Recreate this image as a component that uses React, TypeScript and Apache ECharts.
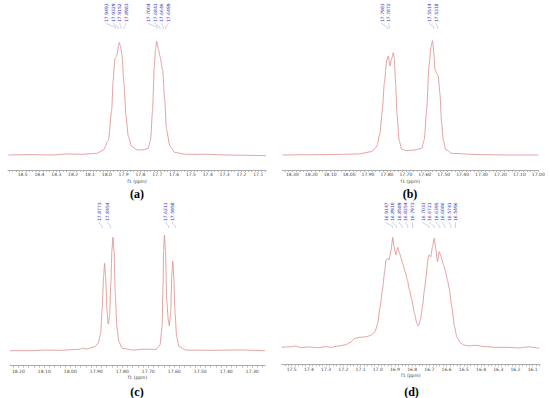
import React, { useEffect, useRef } from 'react';
import * as echarts from 'echarts';

// ---- spectra: [ppm, intensity] ----
const specA: [number, number][] = [
  [18.585, 0], [18.45, 0.3], [18.32, 0], [18.24, 0.8], [18.15, 0.6], [18.06, 1.3], [18.02, 4], [17.99, 12],
  [17.971, 36], [17.962, 60], [17.952, 77], [17.942, 79], [17.926, 90], [17.918, 86.7], [17.91, 80],
  [17.898, 57], [17.886, 31], [17.872, 15], [17.853, 7], [17.823, 4.3], [17.8, 4], [17.783, 4.2],
  [17.754, 5.3], [17.74, 12], [17.728, 36], [17.718, 70], [17.71, 85], [17.704, 91], [17.692, 84],
  [17.684, 79], [17.668, 68], [17.656, 44], [17.645, 20], [17.625, 7], [17.595, 2], [17.526, 0.5],
  [17.4, 0.6], [17.3, 0], [17.2, -0.2], [17.054, -0.5],
];
const specB: [number, number][] = [
  [18.353, 0], [18.2, 0.2], [18.05, 0.5], [17.951, 0.8], [17.881, 2.7], [17.854, 6.7], [17.837, 17.3],
  [17.824, 36], [17.814, 57.3], [17.801, 76], [17.793, 79.2], [17.784, 71.2], [17.775, 77.3], [17.766, 81.9],
  [17.761, 77.3], [17.754, 57.3], [17.747, 33.3], [17.736, 12], [17.722, 4.5], [17.696, 3.5], [17.652, 4],
  [17.617, 5.3], [17.603, 12], [17.59, 36], [17.578, 70.7], [17.567, 86.7], [17.559, 91.5], [17.552, 81.3],
  [17.546, 68], [17.537, 65.3], [17.529, 63.2], [17.52, 49.3], [17.511, 25.3], [17.502, 12], [17.49, 4.5],
  [17.458, 1.3], [17.3, 0.3], [17.15, 0], [17.0, 0],
];
const specC: [number, number][] = [
  [18.232, 0], [18.142, 0], [18.1, 0.5], [18.04, 0.3], [17.964, 1.1], [17.951, 2.1], [17.938, 1.3],
  [17.906, 3.2], [17.893, 5.9], [17.883, 13.9], [17.877, 35.2], [17.872, 59.2], [17.868, 69.9],
  [17.864, 59.2], [17.859, 32.5], [17.854, 21.3], [17.849, 27.2], [17.844, 53.9], [17.84, 80.5],
  [17.836, 90.7], [17.832, 80.5], [17.827, 45.9], [17.821, 19.2], [17.813, 7.2], [17.8, 1.9], [17.759, 0.5],
  [17.72, 1.2], [17.67, 1.1], [17.655, 4.5], [17.647, 19.2], [17.643, 53.9], [17.641, 80.5], [17.638, 92.5],
  [17.634, 80.5], [17.629, 40.5], [17.623, 24.5], [17.619, 19.7], [17.614, 29.9], [17.609, 61.9],
  [17.606, 71.7], [17.602, 59.2], [17.597, 29.9], [17.591, 11.2], [17.581, 3.2], [17.555, 0.5],
  [17.45, 0.3], [17.35, 0.6], [17.251, 0],
];
const specD: [number, number][] = [
  [17.558, 1.6], [17.5, 2.1], [17.481, 2.7], [17.442, 1.3], [17.403, 1.9], [17.345, 1.3], [17.306, 2.1],
  [17.267, 1.6], [17.229, 2.7], [17.19, 3.5], [17.161, 5.3], [17.132, 8.8], [17.103, 9.6], [17.064, 10.1],
  [17.035, 11.5], [17.016, 14.1], [17.0, 20.8], [16.986, 34.1], [16.973, 47.5], [16.961, 60.8],
  [16.952, 71.5], [16.942, 72.8], [16.934, 71.5], [16.922, 79.5], [16.913, 89.6], [16.905, 82.1],
  [16.895, 75.5], [16.884, 81.6], [16.876, 78.1], [16.864, 72.8], [16.855, 68.8], [16.841, 62.1],
  [16.828, 55.5], [16.816, 47.5], [16.802, 39.5], [16.787, 28.8], [16.773, 20.8], [16.764, 18.7],
  [16.752, 23.5], [16.74, 34.1], [16.729, 47.5], [16.719, 58.1], [16.709, 71.5], [16.702, 75.5],
  [16.692, 74.1], [16.682, 82.1], [16.672, 88.8], [16.663, 80.8], [16.653, 70.1], [16.643, 78.1],
  [16.632, 74.1], [16.618, 67.5], [16.609, 63.5], [16.595, 55.5], [16.585, 48.8], [16.57, 34.1],
  [16.554, 18.1], [16.541, 10.1], [16.521, 5.3], [16.502, 3.5], [16.473, 2.7], [16.434, 3.2],
  [16.376, 2.1], [16.318, 1.6], [16.24, 1.6], [16.182, 1.1], [16.124, 1.9], [16.062, 0.8],
];

// ---- axis tick labels ----
const ticksA = [18.5, 18.4, 18.3, 18.2, 18.1, 18.0, 17.9, 17.8, 17.7, 17.6, 17.5, 17.4, 17.3, 17.2, 17.1];
const ticksB = [18.3, 18.2, 18.1, 18.0, 17.9, 17.8, 17.7, 17.6, 17.5, 17.4, 17.3, 17.2, 17.1, 17.0];
const ticksC = [18.2, 18.1, 18.0, 17.9, 17.8, 17.7, 17.6, 17.5, 17.4, 17.3];
const ticksD = [17.5, 17.4, 17.3, 17.2, 17.1, 17.0, 16.9, 16.8, 16.7, 16.6, 16.5, 16.4, 16.3, 16.2, 16.1];

// ---- peak labels (groups) ----
const peakLabelsA = [[17.9493, 17.9329, 17.9152, 17.8983], [17.7004, 17.6841, 17.6646, 17.6499]];
const peakLabelsB = [[17.7983, 17.7872], [17.5514, 17.5318]];
const peakLabelsC = [[17.8773, 17.8454], [17.6211, 17.5958]];
const peakLabelsD = [
  [16.9147, 16.891, 16.8589, 16.8254, 16.7973],
  [16.7033, 16.6721, 16.6395, 16.6086, 16.5741, 16.5496],
];

const panelLetters = ['(a)', '(b)', '(c)', '(d)'];
const axisName = 'f1 (ppm)';

function minorTicks(min: number, max: number, step: number) {
  const out: number[] = [];
  const start = Math.ceil(min / step - 1e-9);
  for (let k = start; k * step <= max + 1e-9; k++) out.push(+(k * step).toFixed(4));
  return out;
}

export default function App() {
  const ref = useRef<HTMLDivElement>(null);
  useEffect(() => {
    document.body.style.margin = '0';
    const chart = echarts.init(ref.current!, null, { renderer: 'svg' });
    const panels = [
      { spec: specA, ticks: ticksA, labels: peakLabelsA, grid: { left: 8, top: 30, width: 258, height: 140 }, min: 17.054, max: 18.587, dec: 1, letter: [137, 193.5], labelBottom: 22, margin: 2 },
      { spec: specB, ticks: ticksB, labels: peakLabelsB, grid: { left: 282.3, top: 30, width: 256, height: 140 }, min: 17.0, max: 18.353, dec: 2, letter: [410, 193.5], labelBottom: 22, margin: 2 },
      { spec: specC, ticks: ticksC, labels: peakLabelsC, grid: { left: 10, top: 225.7, width: 255, height: 140 }, min: 17.251, max: 18.232, dec: 2, letter: [137, 392], labelBottom: 221, margin: 3 },
      { spec: specD, ticks: ticksD, labels: peakLabelsD, grid: { left: 281.7, top: 224.3, width: 258.2, height: 140 }, min: 16.058, max: 17.558, dec: 1, letter: [411.5, 392], labelBottom: 221, margin: 3 },
    ];
    chart.setOption({
      animation: false,
      backgroundColor: '#ffffff',
      grid: panels.map((p) => ({ ...p.grid, containLabel: false })),
      xAxis: panels.map((p, i) => ({
        type: 'value',
        gridIndex: i,
        inverse: true,
        min: p.min,
        max: p.max,
        position: 'bottom',
        axisLine: { show: true, onZero: false, lineStyle: { color: '#aaaaaa', width: 1 } },
        axisTick: {
          show: true,
          customValues: minorTicks(p.min, p.max, 0.02),
          length: 2,
          lineStyle: { color: '#aaaaaa', width: 0.8 },
        },
        axisLabel: {
          customValues: p.ticks,
          formatter: (v: number) => v.toFixed(p.dec),
          fontSize: 4.5,
          color: '#444444',
          margin: p.margin,
          fontFamily: 'DejaVu Sans',
        },
        splitLine: { show: false },
        name: axisName,
        nameLocation: 'middle',
        nameGap: 9,
        nameTextStyle: { fontSize: 4.5, color: '#444444', fontFamily: 'DejaVu Sans' },
      })),
      yAxis: panels.map((p, i) => ({ type: 'value', gridIndex: i, min: -12, max: 100, show: false })),
      series: panels.map((p, i) => ({
        type: 'line',
        xAxisIndex: i,
        yAxisIndex: i,
        data: p.spec,
        showSymbol: false,
        symbol: 'none',
        smooth: 0.2,
        smoothMonotone: 'x',
        silent: true,
        lineStyle: { color: '#dc8a8a', width: 0.8 },
      })),
    });

    const GAP = 6.5;
    const SHIFT = -3;
    const elements: any[] = [];
    panels.forEach((p, i) => {
      p.labels.forEach((group) => {
        const px = group.map((v) => chart.convertToPixel({ xAxisIndex: i } as any, v) as unknown as number);
        const n = px.length;
        const mean = px.reduce((a, b) => a + b, 0) / n;
        let minGap = Infinity;
        for (let k = 1; k < n; k++) minGap = Math.min(minGap, Math.abs(px[k] - px[k - 1]));
        const lx = minGap < GAP ? px.map((_, k) => mean + (k - (n - 1) / 2) * GAP + SHIFT) : px.map((x) => x + SHIFT);
        const b = p.labelBottom;
        group.forEach((v, k) => {
          elements.push({
            type: 'text',
            x: lx[k],
            y: b,
            rotation: Math.PI / 2,
            z: 100,
            style: {
              text: v.toFixed(4),
              fontSize: 4.5,
              fontFamily: 'DejaVu Sans',
              fill: '#3a3ab8',
              align: 'left',
              verticalAlign: 'middle',
            },
          });
          elements.push({
            type: 'polyline',
            z: 100,
            shape: { points: [[lx[k], b + 1], [lx[k], b + 2], [px[k], b + 5], [px[k], b + 7]] },
            style: { stroke: '#a0a0d0', lineWidth: 0.5, fill: null },
          });
        });
      });
      elements.push({
        type: 'text',
        x: p.letter[0],
        y: p.letter[1],
        z: 100,
        style: {
          text: panelLetters[i],
          fontSize: 12,
          fontWeight: 'bold',
          fontFamily: 'Liberation Serif',
          fill: '#000000',
          align: 'center',
          verticalAlign: 'middle',
        },
      });
    });
    chart.setOption({ graphic: { elements } });

    return () => chart.dispose();
  }, []);
  return <div ref={ref} style={{ position: 'absolute', left: 0, top: 0, width: 550, height: 398 }} />;
}
